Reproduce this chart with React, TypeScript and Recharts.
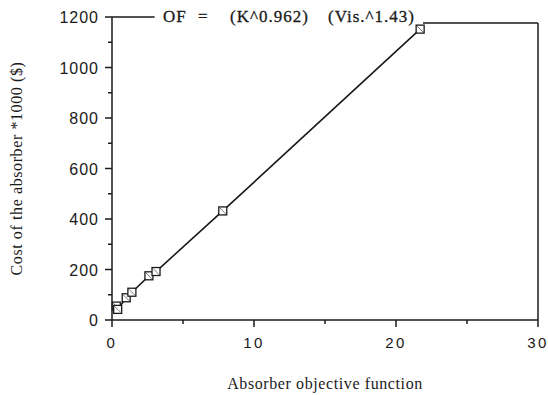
import React from 'react';
import {
  LineChart, Line, XAxis, YAxis, ReferenceLine, Label, Customized,
} from 'recharts';

// Absorber cost vs. objective function, with fitted correlation line
const objectiveFn = [0.3, 0.4, 1.0, 1.4, 2.6, 3.1, 7.8, 21.7];
const costK = [55, 42, 88, 110, 175, 192, 432, 1152];

const xTicks = [0, 5, 10, 15, 20, 25, 30];
const xMajor = [0, 10, 20, 30];
const yTicks = [0, 100, 200, 300, 400, 500, 600, 700, 800, 900, 1000, 1100, 1200];
const yMajor = [0, 200, 400, 600, 800, 1000, 1200];

const formulaParts = ['OF', '=', '(K^0.962)', '(Vis.^1.43)'];

const data = objectiveFn.map((x, i) => ({ x, y: costK[i] }));

const INK = '#1a1a1a';
const SANS = '"Liberation Sans", Arial, sans-serif';
const SERIF = '"Liberation Serif", "Times New Roman", serif';

function XTick({ x, y, payload }: any) {
  const major = xMajor.includes(payload.value);
  return (
    <g>
      <line x1={x} y1={y} x2={x} y2={y + (major ? 7 : 4)} stroke={INK} strokeWidth={1.5} />
      {major && (
        <text x={x} y={y + 28} textAnchor="middle" fontFamily={SANS} fontSize={15}
          letterSpacing={2.5} fill={INK}>
          {payload.value}
        </text>
      )}
    </g>
  );
}

function YTick({ x, y, payload }: any) {
  const major = yMajor.includes(payload.value);
  return (
    <g>
      <line x1={x} y1={y} x2={x - (major ? 7 : 4)} y2={y} stroke={INK} strokeWidth={1.5} />
      {major && (
        <text x={x - 13} y={y + 6} textAnchor="end" fontFamily={SANS} fontSize={16}
          letterSpacing={1} fill={INK}>
          {payload.value}
        </text>
      )}
    </g>
  );
}

function SquareDot({ cx, cy }: any) {
  if (cx == null || cy == null) return null;
  return (
    <g>
      <rect x={cx - 4} y={cy - 4} width={8} height={8} fill="#fff" stroke={INK} strokeWidth={1.3} />
      <line x1={cx - 3} y1={cy - 3} x2={cx + 3} y2={cy + 3} stroke={INK} strokeWidth={0.6} />
    </g>
  );
}

// Correlation text sitting in the gap of the top frame
function Formula() {
  const xs = [163, 198, 230, 328];
  return (
    <g>
      {formulaParts.map((t, i) => (
        <text key={t} x={xs[i]} y={22} fontFamily={SERIF} fontSize={17}
          letterSpacing={1} fill={INK} stroke={INK} strokeWidth={0.3}>
          {t}
        </text>
      ))}
    </g>
  );
}

export default function App() {
  return (
    <div style={{ position: 'absolute', left: 0, top: 0, background: '#fff' }}>
      <LineChart width={548} height={395} data={data}
        margin={{ top: 17, right: 10, bottom: 0, left: 0 }}>
        <XAxis type="number" dataKey="x" domain={[0, 30]} ticks={xTicks}
          tickSize={0} tickMargin={0} tickLine={false} tick={<XTick />}
          axisLine={{ stroke: INK, strokeWidth: 1.5 }} height={75} interval={0}>
          <Label value="Absorber objective function" position="insideBottom" offset={6}
            style={{ fontFamily: SERIF, fontSize: 16, letterSpacing: 0.6, fill: INK }} />
        </XAxis>
        <YAxis type="number" domain={[0, 1200]} ticks={yTicks} width={112}
          tickSize={0} tickMargin={0} tickLine={false} tick={<YTick />}
          axisLine={{ stroke: INK, strokeWidth: 1.5 }} interval={0}>
          <Label value="Cost of the absorber *1000 ($)" angle={-90} position="insideLeft"
            offset={16} style={{ fontFamily: SERIF, fontSize: 16, letterSpacing: 0.6, fill: INK, textAnchor: 'middle' }} />
        </YAxis>
        <ReferenceLine segment={[{ x: 0, y: 1200 }, { x: 3, y: 1200 }]} stroke={INK} strokeWidth={1.5} />
        <ReferenceLine segment={[{ x: 21.9, y: 1176 }, { x: 30, y: 1176 }]} stroke={INK} strokeWidth={1.5} />
        <ReferenceLine segment={[{ x: 30, y: 0 }, { x: 30, y: 1176 }]} stroke={INK} strokeWidth={1.5} />
        <Line type="linear" dataKey="y" stroke={INK} strokeWidth={1.6}
          dot={<SquareDot />} isAnimationActive={false} />
        <Customized component={<Formula />} />
      </LineChart>
    </div>
  );
}
